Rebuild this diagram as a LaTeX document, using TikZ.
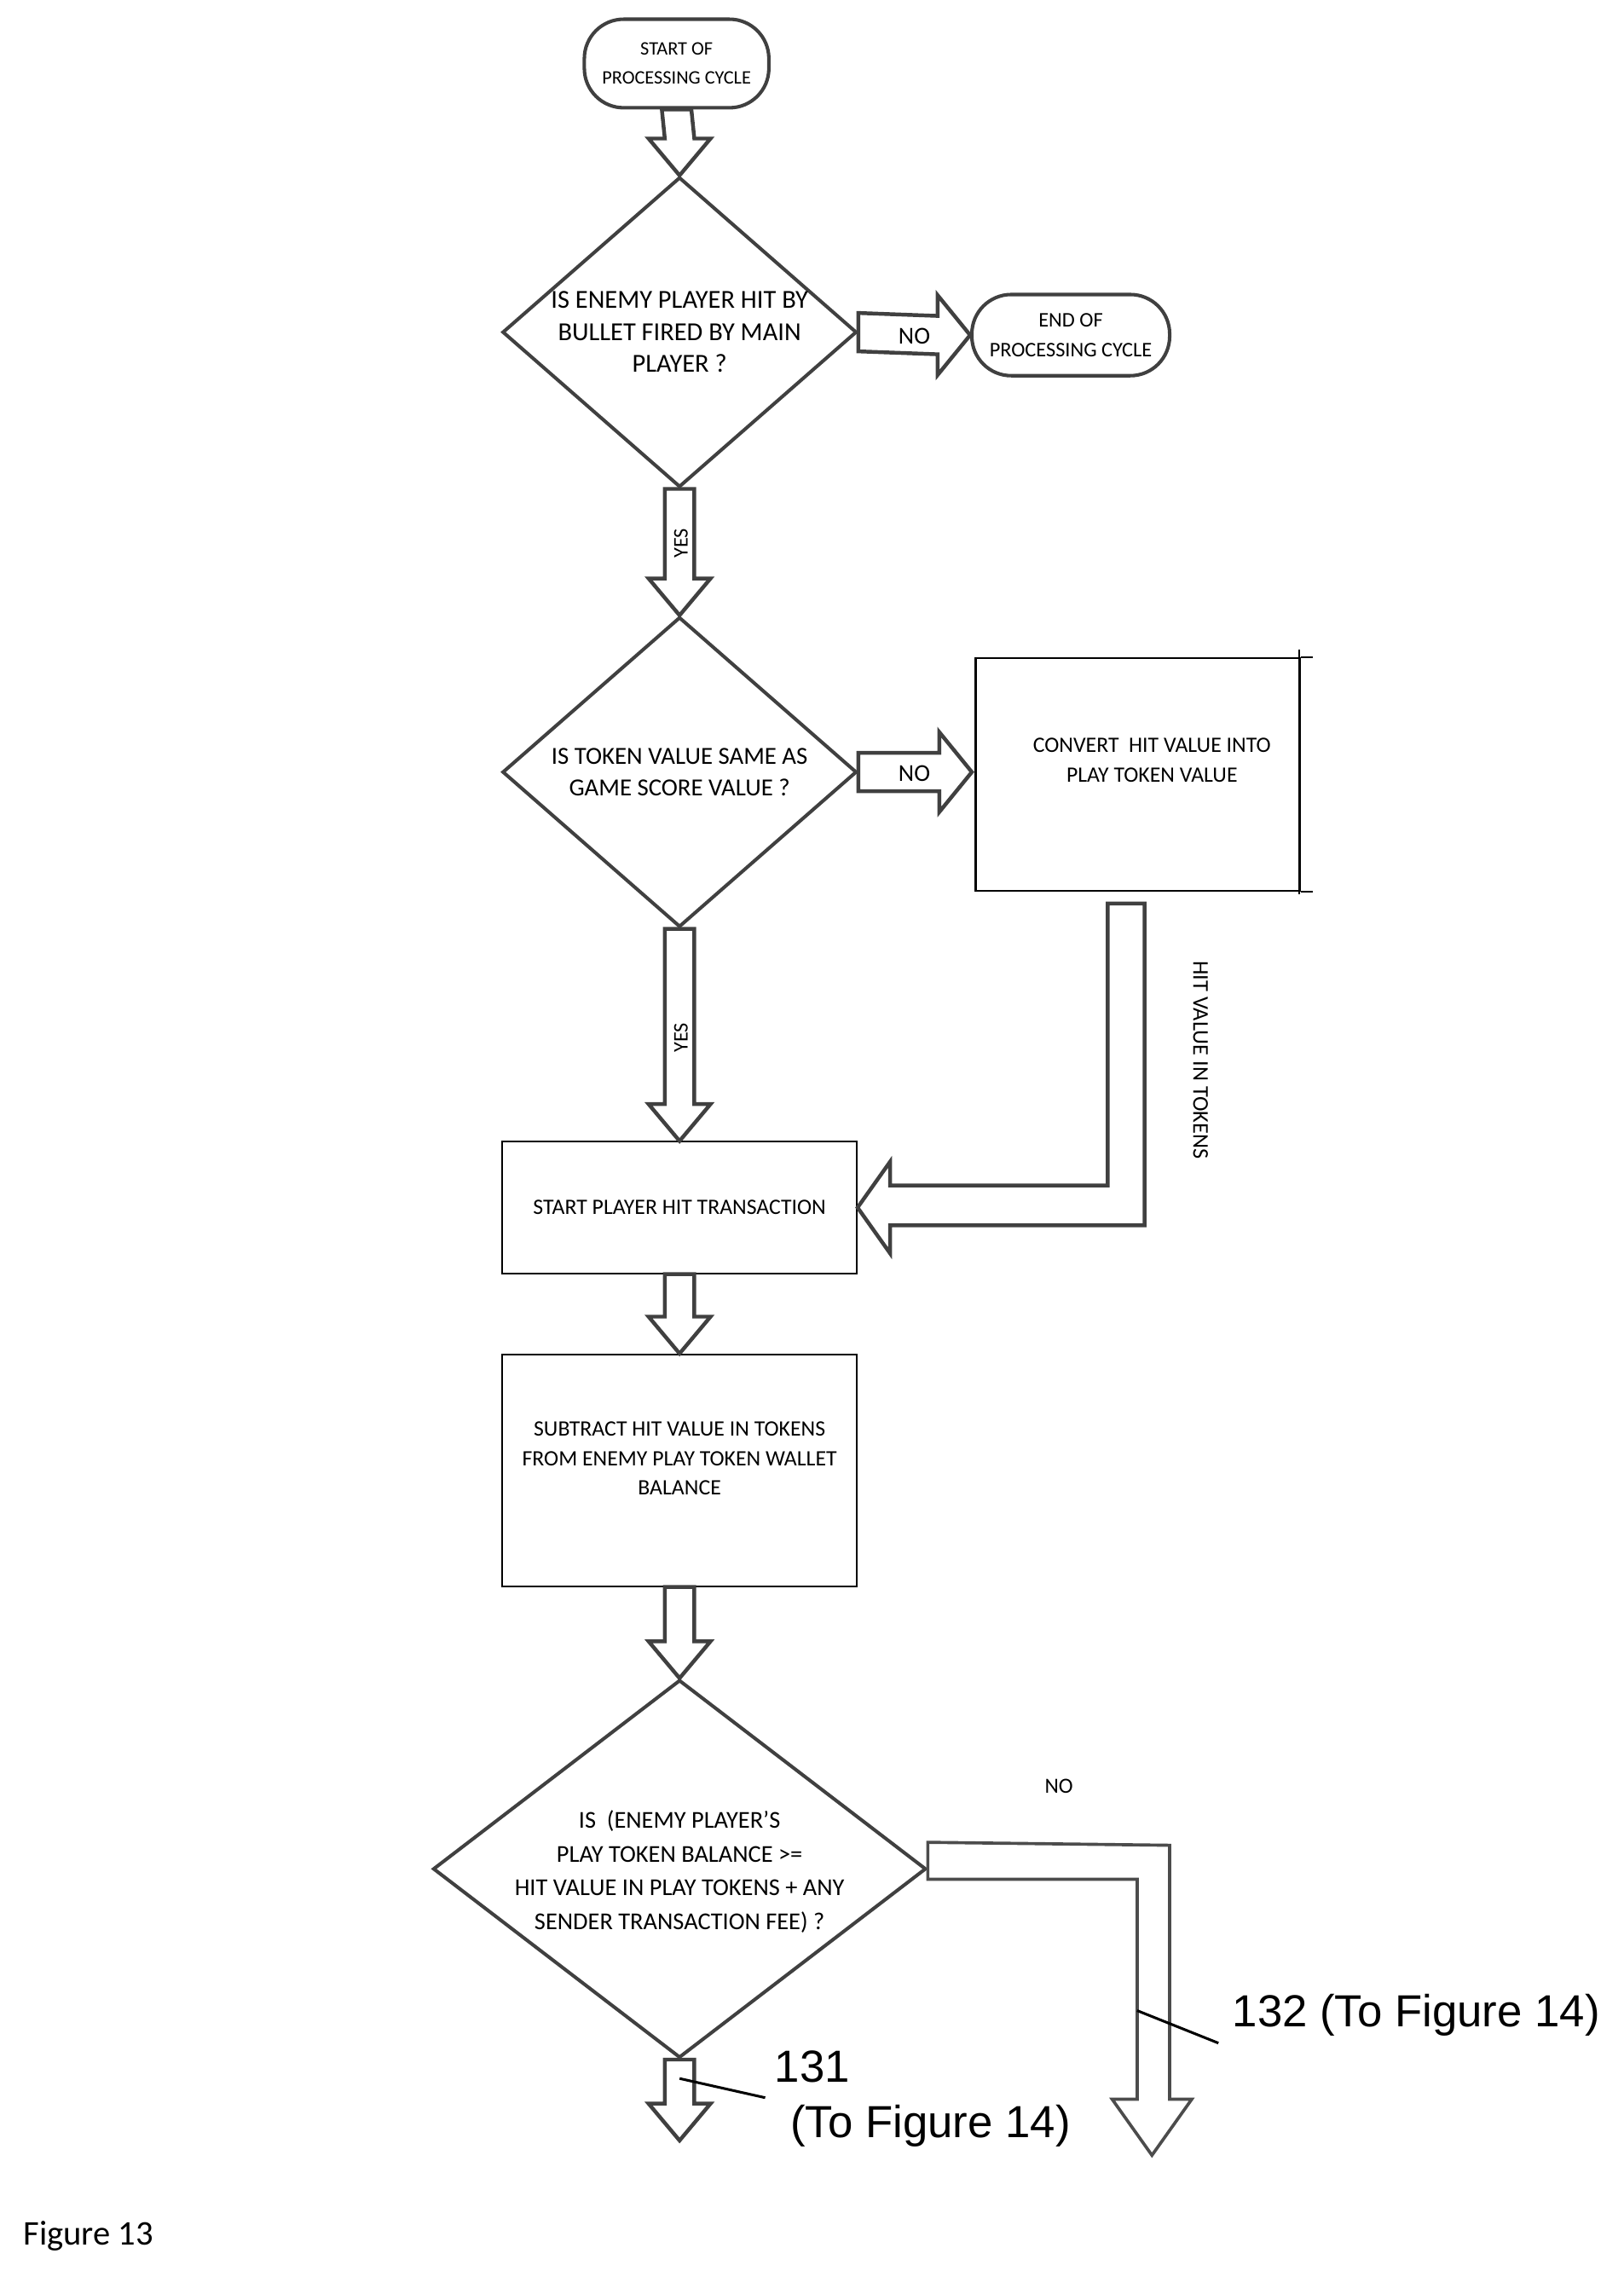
\documentclass[tikz,border=0pt]{standalone}
\usepackage{fontspec}
\setmainfont{Carlito}
\newfontfamily\arialf{Liberation Sans}
\usetikzlibrary{calc,shapes.geometric}
\tikzset{
  blk/.style={draw=black!75, line width=2.2pt, fill=white, line join=miter},
  shape line/.style={draw=black!75, line width=2pt},
  term/.style={shape line, rounded corners=0.8cm, align=center, font=\fontsize{11}{17}\selectfont, inner sep=0pt},
  dia/.style={shape line, diamond, inner sep=0pt},
  box/.style={draw=black, line width=1pt, align=center, inner sep=0pt, font=\fontsize{12.7}{17}\selectfont},
  txt/.style={align=center, font=\fontsize{15}{18.5}\selectfont},
  big/.style={font=\arialf\fontsize{26}{30}\selectfont, align=center},
}
\newcommand\vblk[2]{\draw[blk] ($(#1)+(-10,0)$) -- ($(#2)+(-10,-25)$) -- ($(#2)+(-21,-25)$) -- (#2) -- ($(#2)+(21,-25)$) -- ($(#2)+(10,-25)$) -- ($(#1)+(10,0)$) -- cycle;}
\newcommand\hblk[2]{\draw[blk] ($(#1)+(0,-13)$) -- ($(#2)+(-22,-13)$) -- ($(#2)+(-22,-27)$) -- (#2) -- ($(#2)+(-22,27)$) -- ($(#2)+(-22,13)$) -- ($(#1)+(0,13)$) -- cycle;}
\begin{document}
\begin{tikzpicture}[x=0.03cm,y=-0.03cm]
\useasboundingbox (0,0) rectangle (1100,1554);
\begin{scope}[xshift=-0.14cm]
% nodes
\node[term, minimum width=125*0.03cm, minimum height=60*0.03cm] (start) at (463,43) {START OF\\PROCESSING CYCLE};
\node[dia, minimum width=240*0.03cm, minimum height=210*0.03cm] (d1) at (465,225) {};
\node[txt] at (d1) {IS ENEMY PLAYER HIT BY\\BULLET FIRED BY MAIN\\PLAYER ?};
\node[term, minimum width=134*0.03cm, minimum height=55*0.03cm, font=\fontsize{12}{17}\selectfont] (end) at (730,227) {END OF\\PROCESSING CYCLE};
\node[dia, minimum width=240*0.03cm, minimum height=210*0.03cm] (d2) at (465,523) {};
\node[txt, font=\fontsize{14.2}{18.5}\selectfont] at (d2) {IS TOKEN VALUE SAME AS\\GAME SCORE VALUE ?};
\node[box, minimum width=220*0.03cm, minimum height=158*0.03cm, anchor=north west] (conv) at (665,445) {};
\node[box, draw=none] at (785,515) {CONVERT\ \ HIT VALUE INTO\\PLAY TOKEN VALUE};
\draw[line width=1pt] (conv.north east) -- ++(8,0) (conv.south east) -- ++(8,0);
\draw[line width=1pt] (885,440) -- (885,606);
\node[box, minimum width=240*0.03cm, minimum height=89*0.03cm] (hit) at (465,818) {START PLAYER HIT TRANSACTION};
\node[box, minimum width=240*0.03cm, minimum height=157*0.03cm] (sub) at (465,996) {};
\node[box, draw=none] at (465,988) {SUBTRACT HIT VALUE IN TOKENS\\FROM ENEMY PLAY TOKEN WALLET\\BALANCE};
\node[dia, minimum width=334*0.03cm, minimum height=256*0.03cm] (d3) at (465,1266) {};
\node[txt, font=\fontsize{14}{19.5}\selectfont] at (465,1268) {IS\ \ (ENEMY PLAYER’S\\PLAY TOKEN BALANCE >=\\HIT VALUE IN PLAY TOKENS + ANY\\SENDER TRANSACTION FEE) ?};
% connectors
\vblk{start.south}{d1.north}
\hblk{d1.east}{end.west}
\node[txt, font=\fontsize{14}{17}\selectfont] at (624,228) {NO};
\vblk{d1.south}{d2.north}
\node[txt, rotate=90, font=\fontsize{12}{17}\selectfont] at (466,368) {YES};
\hblk{d2.east}{663,523}
\node[txt, font=\fontsize{14}{17}\selectfont] at (624,524) {NO};
\vblk{d2.south}{hit.north}
\node[txt, rotate=90, font=\fontsize{12}{17}\selectfont] at (466,703) {YES};
\vblk{hit.south}{sub.north}
\vblk{sub.south}{d3.north}
% bent arrow from convert box
\coordinate (hv) at (hit.east);
\draw[blk] (755,612) -- (755,803) -- ($(hv)+(22,-15)$) -- ($(hv)+(22,-31)$) -- (hv) -- ($(hv)+(22,31)$) -- ($(hv)+(22,12)$) -- (780,830) -- (780,612) -- cycle;
\node[txt, rotate=-90, font=\fontsize{13}{17}\selectfont] at (818,718) {HIT VALUE IN TOKENS};
% bottom arrows
\coordinate (b1) at (465,1450);
\draw[blk] ($(d3.south)+(-10,0)$) -- ($(b1)+(-10,-25)$) -- ($(b1)+(-21,-25)$) -- (b1) -- ($(b1)+(21,-25)$) -- ($(b1)+(10,-25)$) -- ($(d3.south)+(10,0)$) -- cycle;
\coordinate (b2) at (785,1460);
\draw[blk, draw=black!70, line width=1.8pt] ($(d3.east)+(0,-18)$) -- (797,1250) -- (797,1422) -- (812,1422) -- (b2) -- (758,1422) -- (775,1422) -- (775,1273) -- ($(d3.east)+(0,7)$) -- cycle;
\node[txt, font=\fontsize{12.5}{17}\selectfont] at (722,1210) {NO};
% labels
\draw[line width=1.5pt] (465,1408) -- (523,1421);
\node[big] at (555,1400) {131};
\node[big] at (635,1440) {(To Figure 14)};
\draw[line width=1.5pt] (775,1362) -- (830,1384);
\node[big] at (964,1365) {132 (To Figure 14)};
\end{scope}
\node[font=\fontsize{20}{24}\selectfont] at (60,1515) {Figure 13};
\end{tikzpicture}
\end{document}
